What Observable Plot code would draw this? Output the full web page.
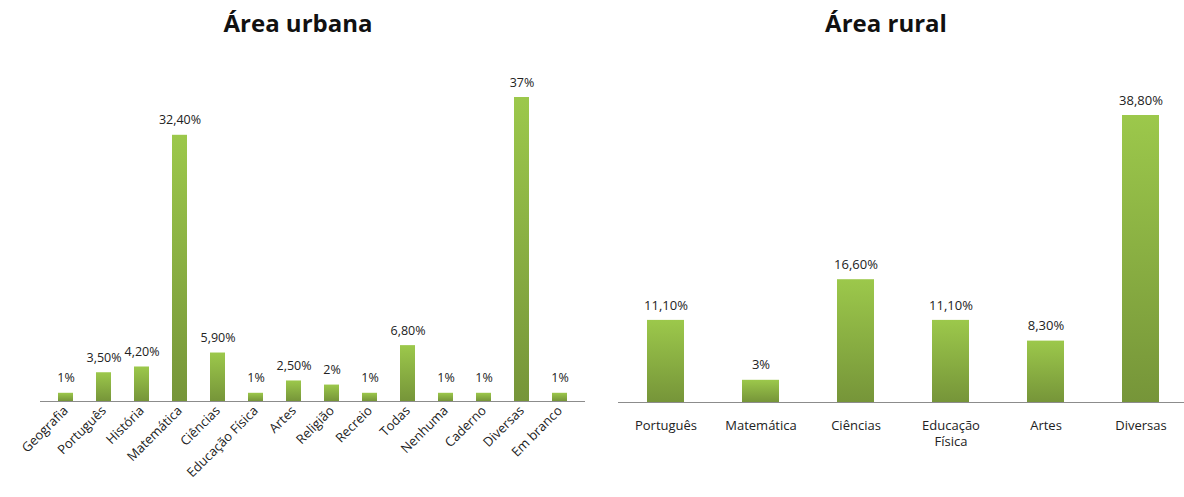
<!DOCTYPE html>
<html>
<head>
<meta charset="utf-8">
<script src="https://cdn.jsdelivr.net/npm/d3@7"></script>
<script src="https://cdn.jsdelivr.net/npm/@observablehq/plot@0.6"></script>
<style>
  html, body { margin: 0; padding: 0; background: #fff; overflow: hidden; }
  #wrap { position: relative; width: 1184px; height: 497px; overflow: hidden; font-family: "Open Sans", sans-serif; }
  .panel { position: absolute; top: 0; }
  .title { position: absolute; font-family: "Open Sans", sans-serif; font-weight: 700; font-size: 24px; color: #111; white-space: nowrap; transform: translateX(-50%); }
  svg text { font-family: "Open Sans", sans-serif; }
</style>
</head>
<body>
<div id="wrap">
  <div class="panel" id="left" style="left:0;width:600px;height:497px"></div>
  <div class="panel" id="right" style="left:600px;width:590px;height:497px"></div>
  <div class="title" style="left:298px;top:6px">Área urbana</div>
  <div class="title" style="left:886px;top:6px">Área rural</div>
</div>
<script>
const urbanCategories = ["Geografia", "Português", "História", "Matemática", "Ciências", "Educação Física", "Artes", "Religião", "Recreio", "Todas", "Nenhuma", "Caderno", "Diversas", "Em branco"];
const urbanValues = [1, 3.5, 4.2, 32.4, 5.9, 1, 2.5, 2, 1, 6.8, 1, 1, 37, 1];

const ruralCategories = ["Português", "Matemática", "Ciências", "Educação Física", "Artes", "Diversas"];
const ruralTickLabels = ["Português", "Matemática", "Ciências", "Educação\nFísica", "Artes", "Diversas"];
const ruralValues = [11.1, 3, 16.6, 11.1, 8.3, 38.8];

const fmt = v => Number.isInteger(v) ? v + "%" : v.toFixed(2).replace(".", ",") + "%";

function gradientDefs(id) {
  return () => {
    const defs = d3.create("svg:defs");
    const g = defs.append("linearGradient").attr("id", id).attr("x1", 0).attr("y1", 0).attr("x2", 0).attr("y2", 1);
    g.append("stop").attr("offset", "0%").attr("stop-color", "#9cc84b");
    g.append("stop").attr("offset", "100%").attr("stop-color", "#769539");
    return defs.node();
  };
}

const urban = urbanCategories.map((c, i) => ({ cat: c, value: urbanValues[i] }));
const rural = ruralCategories.map((c, i) => ({ cat: c, value: ruralValues[i] }));

const leftPlot = Plot.plot({
  width: 600,
  height: 497,
  marginLeft: 40,
  marginRight: 15,
  marginTop: 97,
  marginBottom: 96,
  style: { fontSize: "13px", color: "#222", background: "transparent" },
  x: { domain: urbanCategories, paddingInner: 0.61, paddingOuter: 0.305, label: null },
  y: { domain: [0, 37], axis: null },
  marks: [
    gradientDefs("gradU"),
    Plot.barY(urban, { x: "cat", y: "value", fill: "url(#gradU)" }),
    Plot.ruleY([0], { stroke: "#8c8c8c", strokeWidth: 1.2 }),
    Plot.axisX({ tickSize: 0, tickRotate: -45, tickPadding: 7, fontSize: 13, fill: "#222", label: null }),
    Plot.text(urban, { x: "cat", y: "value", text: d => fmt(d.value), dy: -15, fontSize: 12.5, fill: "#222" })
  ]
});
document.getElementById("left").appendChild(leftPlot);

const rightPlot = Plot.plot({
  width: 590,
  height: 497,
  marginLeft: 18,
  marginRight: 2,
  marginTop: 115,
  marginBottom: 95,
  style: { fontSize: "13px", color: "#222", background: "transparent" },
  x: { domain: ruralCategories, paddingInner: 0.61, paddingOuter: 0.305, label: null },
  y: { domain: [0, 38.8], axis: null },
  marks: [
    gradientDefs("gradR"),
    Plot.barY(rural, { x: "cat", y: "value", fill: "url(#gradR)" }),
    Plot.ruleY([0], { stroke: "#8c8c8c", strokeWidth: 1.2 }),
    Plot.axisX({ tickSize: 0, tickPadding: 15, fontSize: 13, lineHeight: 1.3, fill: "#222", label: null,
                 tickFormat: c => ruralTickLabels[ruralCategories.indexOf(c)] }),
    Plot.text(rural, { x: "cat", y: "value", text: d => fmt(d.value), dy: -15, fontSize: 13, fill: "#222" })
  ]
});
document.getElementById("right").appendChild(rightPlot);
</script>
</body>
</html>
